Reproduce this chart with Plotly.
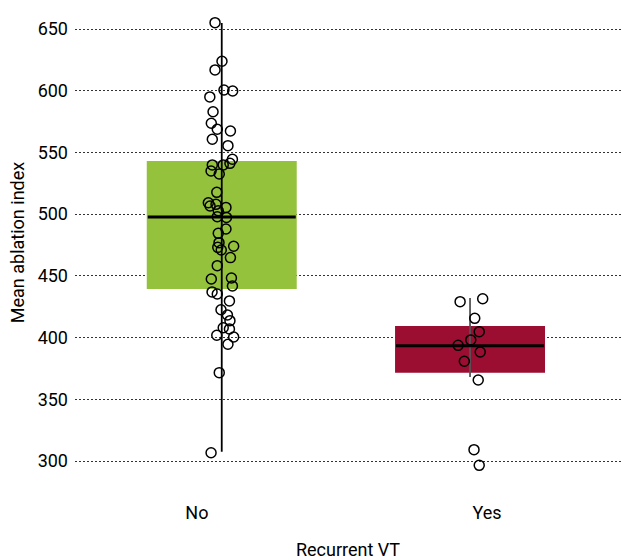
import plotly.graph_objects as go

categories = ["No", "Yes"]
box_colors = ["#95C23D", "#9B0E31"]
whisker_colors = ["#000000", "#555555"]

# box statistics
q1 = [439.4, 371.6]
median = [497.7, 393.4]
q3 = [543.0, 409.4]
whisker_low = [307.5, 368.0]
whisker_high = [655.0, 432.0]

no_values = [655.2, 623.9, 616.9, 600.6, 599.8, 595.0, 583.0, 573.7, 568.8, 567.4,
             560.7, 555.5, 544.5, 541.2, 539.9, 539.9, 535.0, 532.6, 517.7, 509.3,
             508.0, 506.6, 505.5, 502.8, 497.9, 497.4, 488.0, 484.5, 476.9, 474.0,
             473.1, 471.0, 464.8, 458.3, 448.3, 447.5, 441.8, 437.0, 435.3, 429.7,
             422.6, 418.3, 413.7, 408.0, 407.0, 401.9, 400.5, 394.6, 371.6, 306.7]
no_jitter = [-0.027, 0.001, -0.027, 0.009, 0.044, -0.048, -0.035, -0.042, -0.018, 0.035,
             -0.038, 0.025, 0.043, 0.033, -0.038, 0.006, -0.043, -0.010, -0.020, -0.054,
             -0.023, -0.047, 0.017, -0.014, -0.018, 0.019, 0.017, -0.014, -0.011, 0.048,
             -0.016, -0.002, 0.035, -0.018, 0.039, -0.042, 0.043, -0.039, -0.018, 0.031,
             -0.003, 0.023, 0.033, 0.006, 0.031, -0.020, 0.048, 0.025, -0.010, -0.043]
yes_values = [431.5, 429.1, 415.6, 404.8, 398.1, 393.7, 388.3, 380.8, 365.6, 309.2, 296.5]
yes_jitter = [0.051, -0.040, 0.019, 0.037, 0.003, -0.048, 0.041, -0.023, 0.033, 0.016, 0.037]

yticks = [300, 350, 400, 450, 500, 550, 600, 650]

FONT = "Roboto, Liberation Sans, sans-serif"
BOX_W = 0.604
xpos = list(range(len(categories)))
# tick labels in the reference sit slightly off the box centres
label_shift = [-0.1, 0.068]

fig = go.Figure()

fig.add_trace(go.Bar(
    x=xpos, base=q1, y=[b - a for a, b in zip(q1, q3)], width=BOX_W,
    marker=dict(color=box_colors, line=dict(width=0)), showlegend=False, hoverinfo="skip"))

for i in xpos:
    fig.add_trace(go.Scatter(
        x=[i, i], y=[whisker_low[i], whisker_high[i]], mode="lines",
        line=dict(color=whisker_colors[i], width=1.8), showlegend=False, hoverinfo="skip"))
    fig.add_trace(go.Scatter(
        x=[i - BOX_W / 2 + 0.004, i + BOX_W / 2 - 0.004], y=[median[i], median[i]], mode="lines",
        line=dict(color="black", width=3), showlegend=False, hoverinfo="skip"))

fig.add_trace(go.Scatter(
    x=[0 + j for j in no_jitter], y=no_values, mode="markers",
    marker=dict(size=10, color="rgba(0,0,0,0)", line=dict(color="black", width=1.5)),
    showlegend=False))
fig.add_trace(go.Scatter(
    x=[1 + j for j in yes_jitter], y=yes_values, mode="markers",
    marker=dict(size=10, color="rgba(0,0,0,0)", line=dict(color="black", width=1.5)),
    showlegend=False))

fig.update_layout(
    width=621, height=560,
    margin=dict(l=75, r=0, t=5, b=80),
    paper_bgcolor="white", plot_bgcolor="white",
    font=dict(family=FONT, size=18, color="black"),
    xaxis=dict(
        range=[-0.591, 1.608], tickvals=[p + s for p, s in zip(xpos, label_shift)],
        ticktext=categories,
        showgrid=False, zeroline=False, showline=False, ticks="",
        ticklabelstandoff=20, automargin=False,
        title=dict(text="Recurrent VT", standoff=23, font=dict(size=18)),
    ),
    yaxis=dict(
        range=[284.6, 669.5], tickvals=yticks,
        showgrid=True, gridcolor="#333333", gridwidth=1, griddash="2px,2px",
        zeroline=False, showline=False, ticks="", ticklabelstandoff=6,
        automargin=False,
        title=dict(text="Mean ablation index", standoff=8, font=dict(size=18)),
    ),
)

fig.write_html(
    "out.html",
    config={"displayModeBar": False},
    post_script="document.body.style.margin='0px';document.body.style.overflow='hidden';",
)
